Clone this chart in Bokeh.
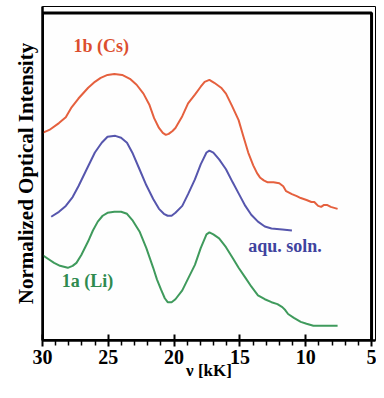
from bokeh.plotting import figure
from bokeh.models import Range1d, FixedTicker, Label
from bokeh.embed import file_html
from bokeh.resources import INLINE

# Wavenumber (kK) and normalized, vertically offset intensity (arbitrary units)
cs_x = [30.00, 29.48, 28.75, 28.23, 27.79, 27.27, 26.53, 26.02, 25.58, 25.06, 24.54, 23.95,
        23.36, 22.85, 22.33, 21.89, 21.52, 21.15, 20.86, 20.63, 20.41, 20.12, 19.90, 19.38,
        18.94, 18.42, 17.98, 17.68, 17.32, 16.95, 16.43, 16.06, 15.62, 15.10, 14.73, 14.37,
        13.99, 13.70, 13.48, 13.19, 12.89, 12.45, 12.01, 11.71, 11.49, 11.05, 10.68, 10.38,
        9.94, 9.57, 9.35, 9.06, 8.83, 8.61, 8.39, 8.10, 7.58]
cs_y = [63.4, 64.3, 66.4, 68.2, 71.2, 73.9, 77.2, 79.0, 80.2, 81.1, 81.4, 81.1,
        79.9, 78.1, 75.4, 72.1, 67.9, 64.9, 63.4, 62.8, 63.1, 64.0, 64.9, 68.5,
        72.4, 75.1, 77.5, 79.0, 79.6, 78.7, 77.2, 75.4, 71.8, 67.3, 62.2, 57.4,
        53.5, 51.1, 49.8, 48.9, 48.3, 48.3, 48.0, 47.1, 45.6, 44.7, 44.1, 43.5,
        42.9, 42.3, 42.3, 41.1, 40.8, 41.4, 41.4, 40.8, 40.2]

aq_x = [29.34, 28.75, 28.23, 27.71, 27.27, 26.68, 26.02, 25.50, 25.06, 24.47, 24.03, 23.58,
        23.14, 22.63, 22.11, 21.59, 21.15, 20.78, 20.49, 20.19, 19.90, 19.38, 18.94, 18.42,
        17.98, 17.54, 17.32, 17.02, 16.58, 16.06, 15.55, 15.03, 14.59, 14.14, 13.63, 13.11,
        12.60, 11.78, 11.05]
aq_y = [37.8, 39.3, 41.1, 43.8, 47.1, 52.0, 57.4, 60.4, 62.2, 62.5, 61.9, 60.4,
        57.1, 52.3, 47.4, 43.2, 40.2, 38.7, 38.1, 38.1, 39.0, 41.1, 44.7, 49.2,
        53.8, 57.4, 58.0, 57.4, 55.3, 52.3, 48.3, 44.4, 41.1, 38.4, 36.3, 34.8,
        34.2, 33.9, 33.6]

li_x = [30.00, 29.56, 29.12, 28.67, 28.08, 27.71, 27.42, 27.05, 26.53, 26.17, 25.80, 25.43,
        25.06, 24.54, 24.03, 23.58, 23.14, 22.63, 22.11, 21.59, 21.30, 21.00, 20.71, 20.49,
        20.19, 19.90, 19.38, 18.94, 18.42, 17.98, 17.54, 17.32, 17.02, 16.58, 16.06, 15.55,
        15.10, 14.59, 14.14, 13.63, 13.11, 12.60, 12.15, 11.78, 11.56, 11.34, 10.90, 10.38,
        9.94, 9.42, 8.47, 7.58]
li_y = [26.1, 24.9, 23.7, 22.8, 22.2, 22.8, 23.7, 26.1, 30.3, 33.6, 36.3, 38.1,
        39.0, 39.3, 39.3, 38.7, 36.6, 33.3, 28.2, 22.2, 18.6, 15.6, 12.9, 11.7,
        11.7, 12.6, 15.3, 18.9, 23.1, 28.2, 32.4, 33.0, 32.4, 31.2, 28.5, 25.2,
        22.2, 19.2, 16.5, 13.8, 12.6, 11.7, 11.1, 10.2, 9.3, 8.1, 6.9, 5.7,
        5.1, 4.5, 4.5, 4.5]

major_ticks = [30, 25, 20, 15, 10, 5]
minor_ticks = [29, 28, 27, 26, 24, 23, 22, 21, 19, 18, 17, 16, 14, 13, 12, 11, 9, 8, 7, 6]
x_start, x_end = 30, 5      # plot box edges (kK)
y_bottom, y_top = 0, 100    # plot box edges (intensity)

RED, BLUE, GREEN = "#e5603e", "#5656ad", "#3f9a5c"
FONT = "Liberation Serif"

p = figure(width=376, height=382, output_backend="svg", toolbar_location=None,
           x_range=Range1d(x_start, 4.7), y_range=Range1d(y_bottom, 102),
           min_border_left=42, min_border_right=1, min_border_top=6, min_border_bottom=38)
p.background_fill_color = "#fefefe"
p.border_fill_color = "#ffffff"
p.grid.visible = False
p.outline_line_color = "#000000"
p.outline_line_width = 1

# plot box drawn as a glyph
p.quad(left=[x_start], right=[x_end], bottom=[y_bottom], top=[y_top],
       fill_color=None, line_color="#000000", line_width=3)

p.line(cs_x, cs_y, line_color=RED, line_width=2)
p.line(aq_x, aq_y, line_color=BLUE, line_width=2)
p.line(li_x, li_y, line_color=GREEN, line_width=2)

xa = p.xaxis[0]
xa.ticker = FixedTicker(ticks=major_ticks, minor_ticks=minor_ticks)
xa.axis_line_color = "black"
xa.axis_line_width = 2.5
xa.major_tick_line_color = "black"
xa.major_tick_line_width = 2
xa.major_tick_in = 6
xa.major_tick_out = 6
xa.minor_tick_line_color = "black"
xa.minor_tick_line_width = 1.5
xa.minor_tick_in = 0
xa.minor_tick_out = 5
xa.major_label_text_font = FONT
xa.major_label_text_font_style = "bold"
xa.major_label_text_font_size = "20px"
xa.major_label_text_color = "black"
xa.major_label_standoff = 3
xa.axis_label = "ν [kK]"
xa.axis_label_text_font = FONT
xa.axis_label_text_font_style = "bold"
xa.axis_label_text_font_size = "17px"
xa.axis_label_text_color = "black"
xa.axis_label_standoff = -6

ya = p.yaxis[0]
ya.ticker = FixedTicker(ticks=[])
ya.major_label_text_font_size = "0px"
ya.major_label_standoff = 0
ya.major_tick_out = 0
ya.major_tick_in = 0
ya.minor_tick_out = 0
ya.minor_tick_in = 0
ya.axis_line_color = "black"
ya.axis_line_width = 2.5
ya.axis_label = "Normalized Optical Intensity"
ya.axis_label_text_font = FONT
ya.axis_label_text_font_style = "bold"
ya.axis_label_text_font_size = "21px"
ya.axis_label_text_color = "black"
ya.axis_label_standoff = 5

p.add_layout(Label(x=27.64, y=89.8, text="1b (Cs)", text_align="left", text_baseline="middle",
                   text_font=FONT, text_font_style="bold", text_font_size="18px",
                   text_color="#dc4e2e"))
p.add_layout(Label(x=14.37, y=28.8, text="aqu. soln.", text_align="left", text_baseline="middle",
                   text_font=FONT, text_font_style="bold", text_font_size="18px",
                   text_color="#3f439e"))
p.add_layout(Label(x=28.53, y=18.3, text="1a (Li)", text_align="left", text_baseline="middle",
                   text_font=FONT, text_font_style="bold", text_font_size="18px",
                   text_color="#2f8a4f"))

open("out.html", "w").write(file_html(p, INLINE))
